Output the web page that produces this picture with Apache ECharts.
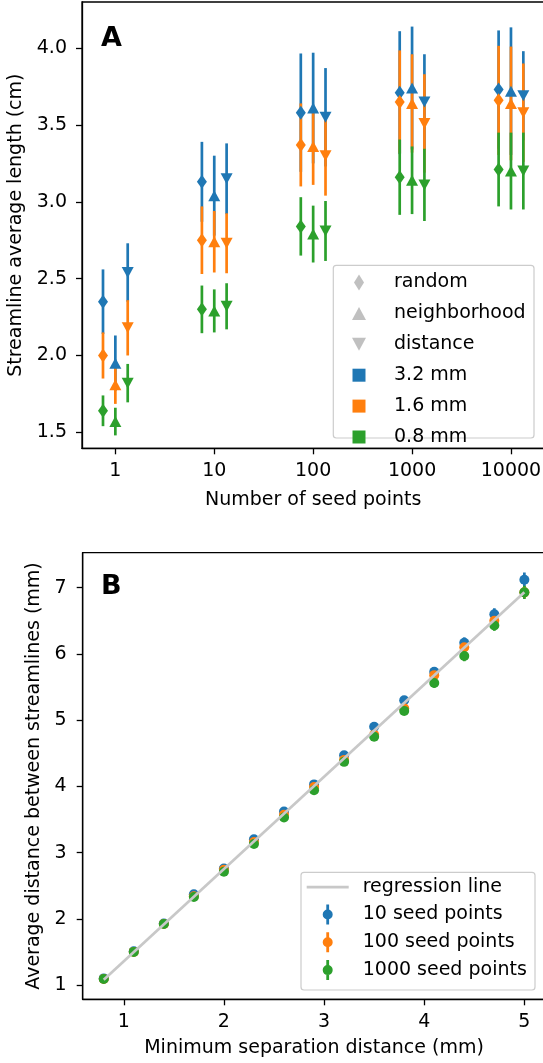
<!DOCTYPE html>
<html>
<head>
<meta charset="utf-8">
<script src="https://cdn.jsdelivr.net/npm/echarts@6/dist/echarts.min.js"></script>
<style>
html, body { margin: 0; padding: 0; background: #fff; }
#chart { width: 543px; height: 1063px; }
</style>
</head>
<body>
<div id="chart"></div>
<script>
// ---- panel A: streamline length vs number of seed points
var seedCounts = [1, 10, 100, 1000, 10000];
var methodNames = ['random', 'neighborhood', 'distance'];
var spacingNames = ['3.2 mm', '1.6 mm', '0.8 mm'];
var yTicksA = [1.5, 2.0, 2.5, 3.0, 3.5, 4.0];

// one row per spacing (3.2, 1.6, 0.8 mm), one value per seed count
var meanRandom = [
    [2.35, 3.13, 3.58, 3.71, 3.73],
    [2.00, 2.75, 3.37, 3.65, 3.66],
    [1.64, 2.30, 2.84, 3.16, 3.21]
];
var errRandom = [
    [0.21, 0.26, 0.385, 0.40, 0.385],
    [0.15, 0.22, 0.27, 0.335, 0.355],
    [0.10, 0.155, 0.19, 0.245, 0.24]
];
var meanNeighbor = [
    [1.95, 3.04, 3.61, 3.74, 3.72],
    [1.81, 2.74, 3.36, 3.64, 3.64],
    [1.57, 2.29, 2.79, 3.14, 3.20]
];
var errNeighbor = [
    [0.18, 0.26, 0.36, 0.40, 0.415],
    [0.125, 0.20, 0.25, 0.32, 0.37],
    [0.09, 0.14, 0.185, 0.22, 0.25]
];
var meanDistance = [
    [2.54, 3.15, 3.55, 3.65, 3.69],
    [2.18, 2.73, 3.30, 3.51, 3.58],
    [1.82, 2.32, 2.81, 3.11, 3.20]
];
var errDistance = [
    [0.19, 0.23, 0.32, 0.31, 0.29],
    [0.18, 0.195, 0.26, 0.32, 0.32],
    [0.125, 0.15, 0.195, 0.235, 0.25]
];

// ---- panel B: measured distance vs minimum separation
var minSep = [0.8, 1.1, 1.4, 1.7, 2.0, 2.3, 2.6, 2.9, 3.2, 3.5, 3.8, 4.1, 4.4, 4.7, 5.0];
var seedNames = ['10 seed points', '100 seed points', '1000 seed points'];
var dist10 = [1.10, 1.51, 1.93, 2.37, 2.76, 3.20, 3.62, 4.03, 4.47, 4.90, 5.30, 5.73, 6.17, 6.60, 7.12];
var dist100 = [1.09, 1.50, 1.92, 2.34, 2.74, 3.16, 3.57, 3.99, 4.40, 4.78, 5.18, 5.68, 6.10, 6.50, 6.93];
var dist1000 = [1.09, 1.50, 1.92, 2.33, 2.71, 3.13, 3.53, 3.94, 4.37, 4.75, 5.14, 5.56, 5.97, 6.43, 6.93];
var err10 = [0.02, 0.02, 0.03, 0.03, 0.03, 0.04, 0.04, 0.05, 0.05, 0.06, 0.06, 0.07, 0.08, 0.09, 0.11];
var err100 = [0.02, 0.02, 0.02, 0.03, 0.03, 0.03, 0.04, 0.04, 0.05, 0.05, 0.06, 0.06, 0.07, 0.08, 0.09];
var err1000 = [0.02, 0.02, 0.02, 0.03, 0.03, 0.03, 0.04, 0.04, 0.05, 0.05, 0.06, 0.07, 0.08, 0.08, 0.10];
var regX = [0.8, 5.0];
var regY = [1.08, 6.93];
var xTicksB = [1, 2, 3, 4, 5];
var yTicksB = [1, 2, 3, 4, 5, 6, 7];

var colors = ['#1f77b4', '#ff7f0e', '#2ca02c'];
var font = 'DejaVu Sans';
var fs = 19;

function errorBars(axisIdx, data, color) {
    return {
        type: 'custom',
        xAxisIndex: axisIdx,
        yAxisIndex: axisIdx,
        data: data,
        encode: { x: 0, y: 1 },
        silent: true,
        renderItem: function (params, api) {
            var x = api.value(0), y = api.value(1), e = api.value(2);
            var lo = api.coord([x, y - e]);
            var hi = api.coord([x, y + e]);
            return {
                type: 'line',
                shape: { x1: lo[0], y1: lo[1], x2: hi[0], y2: hi[1] },
                style: { stroke: color, lineWidth: 2.7 }
            };
        }
    };
}

var methodMeans = [meanRandom, meanNeighbor, meanDistance];
var methodErrs = [errRandom, errNeighbor, errDistance];
var methodShift = [0.75, 1, 4 / 3];
var methodMarks = [
    { symbol: 'diamond', size: [10, 14], rotate: 0 },
    { symbol: 'triangle', size: [12, 11], rotate: 0 },
    { symbol: 'triangle', size: [12, 11], rotate: 180 }
];

var series = [];

// gray legend-only series for the marker shapes
methodNames.forEach(function (name) {
    series.push({ type: 'scatter', name: name, xAxisIndex: 0, yAxisIndex: 0, data: [], itemStyle: { color: '#b0b0b0' } });
});

spacingNames.forEach(function (name, s) {
    var bars = [], pts = [];
    for (var m = 0; m < 3; m++) {
        for (var i = 0; i < seedCounts.length; i++) {
            var x = seedCounts[i] * methodShift[m];
            bars.push([x, methodMeans[m][s][i], methodErrs[m][s][i]]);
            pts.push({
                value: [x, methodMeans[m][s][i]],
                symbol: methodMarks[m].symbol,
                symbolSize: methodMarks[m].size,
                symbolRotate: methodMarks[m].rotate
            });
        }
    }
    series.push(errorBars(0, bars, colors[s]));
    series.push({
        type: 'scatter', name: name, xAxisIndex: 0, yAxisIndex: 0,
        data: pts, itemStyle: { color: colors[s], opacity: 1 }, silent: true
    });
});

series.push({
    type: 'line', name: 'regression line', xAxisIndex: 1, yAxisIndex: 1,
    data: regX.map(function (x, i) { return [x, regY[i]]; }),
    symbol: 'none', lineStyle: { color: '#c8c8c8', width: 2.7 }, itemStyle: { color: '#c8c8c8' },
    silent: true
});

[dist10, dist100, dist1000].forEach(function (vals, k) {
    var errs = [err10, err100, err1000][k];
    series.push(errorBars(1, minSep.map(function (x, i) { return [x, vals[i], errs[i]]; }), colors[k]));
    series.push({
        type: 'scatter', name: seedNames[k], xAxisIndex: 1, yAxisIndex: 1,
        data: minSep.map(function (x, i) { return [x, vals[i]]; }),
        symbol: 'circle', symbolSize: 10, itemStyle: { color: colors[k], opacity: 1 }, silent: true
    });
});

var axisLineStyle = { color: '#000', width: 1.3 };
var labelStyle = { color: '#000', fontSize: fs, fontFamily: font };

var errIcon = 'path://M3.6,0L6.4,0L6.4,20L3.6,20Z M10,10A5,5,0,1,1,0,10A5,5,0,1,1,10,10Z';
var lineIcon = 'path://M0,0L42,0L42,2.7L0,2.7Z';

var option = {
    animation: false,
    backgroundColor: '#fff',
    textStyle: { fontFamily: font },
    title: [
        { text: 'A', left: 101, top: 25, padding: 0, textStyle: { fontSize: 27, fontWeight: 'bold', color: '#000', fontFamily: font } },
        { text: 'B', left: 101, top: 573.5, padding: 0, textStyle: { fontSize: 27, fontWeight: 'bold', color: '#000', fontFamily: font } }
    ],
    grid: [
        { left: 82, top: 2, right: -1.3, bottom: 614.7, show: true, borderColor: '#000', borderWidth: 1.3, outerBoundsMode: 'none', containLabel: false },
        { left: 82.7, top: 552.7, right: -2.4, bottom: 63.7, show: true, borderColor: '#000', borderWidth: 1.3, outerBoundsMode: 'none', containLabel: false }
    ],
    xAxis: [
        {
            type: 'log', logBase: 10, gridIndex: 0, min: 0.46, max: 21730,
            axisLine: { lineStyle: axisLineStyle },
            axisTick: { length: 6, lineStyle: axisLineStyle, customValues: seedCounts },
            axisLabel: { customValues: seedCounts, margin: 13, formatter: function (v) { return String(v); }, color: '#000', fontSize: fs, fontFamily: font },
            splitLine: { show: false }, minorTick: { show: false },
            name: 'Number of seed points', nameLocation: 'middle', nameGap: 42, nameTextStyle: labelStyle
        },
        {
            type: 'value', gridIndex: 1, min: 0.59, max: 5.21,
            axisLine: { lineStyle: axisLineStyle },
            axisTick: { length: 6, lineStyle: axisLineStyle, customValues: xTicksB },
            axisLabel: { customValues: xTicksB, margin: 13, formatter: function (v) { return String(v); }, color: '#000', fontSize: fs, fontFamily: font },
            splitLine: { show: false },
            name: 'Minimum separation distance (mm)', nameLocation: 'middle', nameGap: 39.5, nameTextStyle: labelStyle
        }
    ],
    yAxis: [
        {
            type: 'value', gridIndex: 0, min: 1.396, max: 4.30,
            axisLine: { show: true, lineStyle: axisLineStyle },
            axisTick: { show: true, length: 6, lineStyle: axisLineStyle, customValues: yTicksA },
            axisLabel: { customValues: yTicksA, margin: 15, formatter: function (v) { return v.toFixed(1); }, color: '#000', fontSize: fs, fontFamily: font },
            splitLine: { show: false },
            name: 'Streamline average length (cm)', nameLocation: 'middle', nameGap: 53, nameTextStyle: labelStyle
        },
        {
            type: 'value', gridIndex: 1, min: 0.784, max: 7.529,
            axisLine: { show: true, lineStyle: axisLineStyle },
            axisTick: { show: true, length: 6, lineStyle: axisLineStyle, customValues: yTicksB },
            axisLabel: { customValues: yTicksB, margin: 16, formatter: function (v) { return String(v); }, color: '#000', fontSize: fs, fontFamily: font },
            splitLine: { show: false },
            name: 'Average distance between streamlines (mm)', nameLocation: 'middle', nameGap: 33, nameTextStyle: labelStyle
        }
    ],
    graphic: [
        { type: 'rect', z: 3, shape: { x: 333.3, y: 265.3, width: 200.7, height: 172.7, r: 3 }, style: { fill: 'rgba(255,255,255,0.8)', stroke: '#cccccc', lineWidth: 1.2 } },
        { type: 'rect', z: 3, shape: { x: 301, y: 872.3, width: 234, height: 117.7, r: 3 }, style: { fill: 'rgba(255,255,255,0.8)', stroke: '#cccccc', lineWidth: 1.2 } }
    ],
    legend: [
        {
            orient: 'vertical', left: 352, top: 273, padding: 0, z: 5,
            itemWidth: 16, itemHeight: 16, itemGap: 11.9, selectedMode: false,
            textStyle: { color: '#000', fontSize: fs, fontFamily: font, padding: [0, 0, 0, 22] },
            data: [
                { name: 'random', icon: 'path://M5,0L10,8L5,16L0,8Z' },
                { name: 'neighborhood', icon: 'path://M7,0M0,14.5L7,1.5L14,14.5ZM7,16' },
                { name: 'distance', icon: 'path://M7,0M0,1.5L14,1.5L7,14.5ZM7,16' },
                { name: '3.2 mm', icon: 'path://M0,0M0,1.5L13,1.5L13,14.5L0,14.5ZM0,16' },
                { name: '1.6 mm', icon: 'path://M0,0M0,1.5L13,1.5L13,14.5L0,14.5ZM0,16' },
                { name: '0.8 mm', icon: 'path://M0,0M0,1.5L13,1.5L13,14.5L0,14.5ZM0,16' }
            ]
        },
        {
            orient: 'vertical', left: 306.7, top: 877.7, padding: 0, z: 5,
            itemWidth: 42, itemHeight: 20, itemGap: 7.8, selectedMode: false,
            textStyle: { color: '#000', fontSize: fs, fontFamily: font, padding: [0, 0, 0, 9] },
            data: [
                { name: 'regression line', icon: lineIcon },
                { name: '10 seed points', icon: errIcon },
                { name: '100 seed points', icon: errIcon },
                { name: '1000 seed points', icon: errIcon }
            ]
        }
    ],
    series: series
};

var chart = echarts.init(document.getElementById('chart'));
chart.setOption(option);
</script>
</body>
</html>
